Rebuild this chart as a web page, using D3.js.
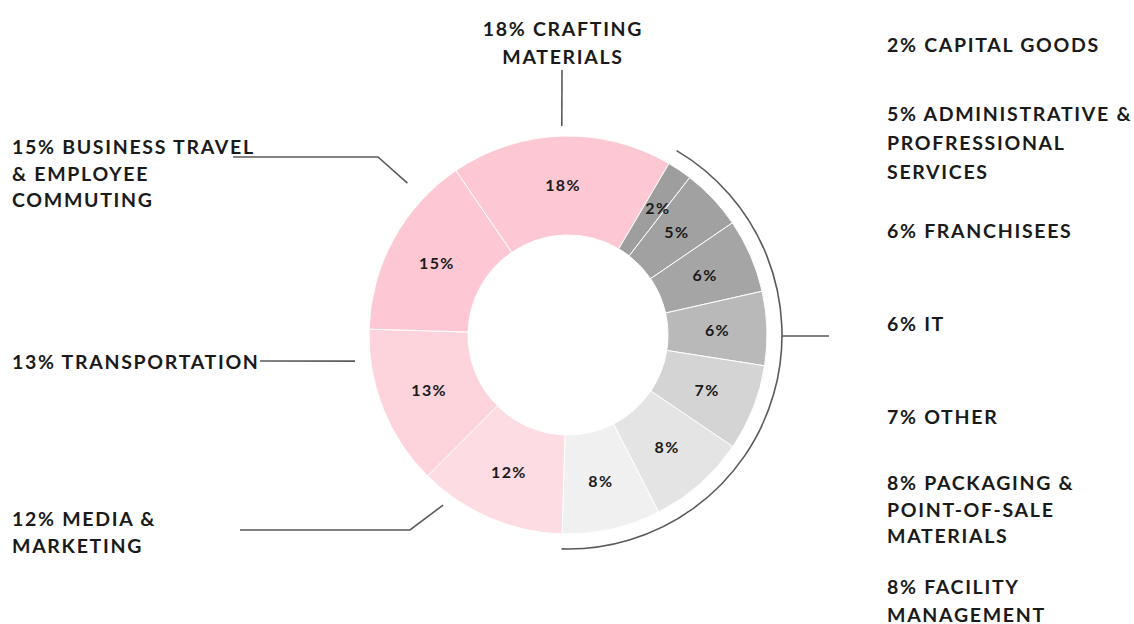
<!DOCTYPE html>
<html>
<head>
<meta charset="utf-8">
<script src="https://cdn.jsdelivr.net/npm/d3@7"></script>
<style>
  html, body { margin: 0; padding: 0; background: #ffffff; }
  svg { display: block; }
  text { font-family: Lato, "Open Sans", sans-serif; font-weight: 700; fill: #1a1a1a; }
</style>
</head>
<body>
<svg id="chart" width="1134" height="624"></svg>
<script>
// ---------- DATA ----------
const categories = [
  "CRAFTING MATERIALS",
  "CAPITAL GOODS",
  "ADMINISTRATIVE & PROFRESSIONAL SERVICES",
  "FRANCHISEES",
  "IT",
  "OTHER",
  "PACKAGING & POINT-OF-SALE MATERIALS",
  "FACILITY MANAGEMENT",
  "MEDIA & MARKETING",
  "TRANSPORTATION",
  "BUSINESS TRAVEL & EMPLOYEE COMMUTING"
];
const values = [18, 2, 5, 6, 6, 7, 8, 8, 12, 13, 15];
const labelLines = [
  ["18% CRAFTING", "MATERIALS"],
  ["2% CAPITAL GOODS"],
  ["5% ADMINISTRATIVE &", "PROFRESSIONAL", "SERVICES"],
  ["6% FRANCHISEES"],
  ["6% IT"],
  ["7% OTHER"],
  ["8% PACKAGING &", "POINT-OF-SALE", "MATERIALS"],
  ["8% FACILITY", "MANAGEMENT"],
  ["12% MEDIA &", "MARKETING"],
  ["13% TRANSPORTATION"],
  ["15% BUSINESS TRAVEL", "& EMPLOYEE", "COMMUTING"]
];
const bracketed = ["CAPITAL GOODS","ADMINISTRATIVE & PROFRESSIONAL SERVICES","FRANCHISEES","IT","OTHER","PACKAGING & POINT-OF-SALE MATERIALS","FACILITY MANAGEMENT"];

// ---------- STYLE / LAYOUT ----------
const sliceColors = ["#fdc8d3","#9e9e9f","#a1a1a2","#a5a5a6","#b9b9ba","#d3d4d3","#e3e4e3","#f0f0f0","#fedce3","#fdd4dc","#fdc8d3"];
const cx = 568, cy = 335, rOuter = 199, rInner = 100;
const startDeg = -34.3;
const lineHeight = 27.5;
const labelPos = [
  {x: 563, y: 36, anchor: "middle", lh: 28},
  {x: 887, y: 52, anchor: "start"},
  {x: 887, y: 121, anchor: "start", lh: 29},
  {x: 887, y: 238, anchor: "start"},
  {x: 887, y: 331, anchor: "start"},
  {x: 887, y: 424, anchor: "start"},
  {x: 887, y: 490, anchor: "start", lh: 26.5},
  {x: 887, y: 594, anchor: "start"},
  {x: 12, y: 526, anchor: "start", lh: 26.5},
  {x: 12, y: 369, anchor: "start"},
  {x: 12, y: 154, anchor: "start", lh: 26.5}
];
const leaders = [
  {inner: {deg: -1.7, r: 209}, pts: [[562, 70]]},
  {inner: {deg: -46.6, r: 221}, pts: [[378, 157], [233, 157]]},
  {inner: {deg: 263, r: 214.6}, pts: [[260, 361]]},
  {inner: {deg: 216.3, r: 211}, pts: [[410, 530], [240, 530]]}
];

const svg = d3.select("#chart");
const g = svg.append("g").attr("transform", `translate(${cx},${cy})`);

const toRad = d => d * Math.PI / 180;
const color = d3.scaleOrdinal().domain(categories).range(sliceColors);

const pie = d3.pie().sort(null).value((d, i) => values[i])
  .startAngle(toRad(startDeg)).endAngle(toRad(startDeg) + 2 * Math.PI);
const arcs = pie(categories);
const arc = d3.arc().innerRadius(rInner).outerRadius(rOuter);

g.selectAll("path.slice").data(arcs).join("path")
  .attr("class", "slice")
  .attr("d", arc)
  .attr("fill", d => color(d.data))
  .attr("stroke", "#ffffff")
  .attr("stroke-width", 1);

g.selectAll("text.pct").data(arcs).join("text")
  .attr("class", "pct")
  .attr("transform", d => {
    const c = arc.centroid(d);
    if (d.data === "CAPITAL GOODS") { c[0] += 6; c[1] -= 3; }
    return `translate(${c})`;
  })
  .attr("text-anchor", "middle")
  .attr("dy", "0.36em")
  .style("font-size", "16px")
  .style("letter-spacing", "1.3px")
  .text((d, i) => values[i] + "%");

// bracket arc over gray slices
const br = arcs.filter(a => bracketed.includes(a.data));
const bStart = d3.min(br, a => a.startAngle), bEnd = d3.max(br, a => a.endAngle);
const bracketR = 214;
g.append("path")
  .attr("d", d3.arc().innerRadius(bracketR).outerRadius(bracketR).startAngle(bStart).endAngle(bEnd)())
  .attr("fill", "none").attr("stroke", "#5a5a5a").attr("stroke-width", 1.6);
g.append("line")
  .attr("x1", bracketR).attr("y1", 1)
  .attr("x2", bracketR + 47).attr("y2", 1)
  .attr("stroke", "#5a5a5a").attr("stroke-width", 1.6);

// leader lines
leaders.forEach(l => {
  const a = toRad(l.inner.deg);
  const p0 = [cx + l.inner.r * Math.sin(a), cy - l.inner.r * Math.cos(a)];
  svg.append("path")
    .attr("d", d3.line()([p0, ...l.pts]))
    .attr("fill", "none").attr("stroke", "#5a5a5a").attr("stroke-width", 1.6);
});

// outside labels
labelLines.forEach((lines, i) => {
  const p = labelPos[i];
  const t = svg.append("text")
    .attr("x", p.x).attr("y", p.y)
    .attr("text-anchor", p.anchor)
    .style("font-size", "19.5px")
    .style("letter-spacing", "1.7px");
  lines.forEach((ln, j) => {
    t.append("tspan").attr("x", p.x).attr("y", p.y + j * (p.lh || lineHeight)).text(ln);
  });
});
</script>
</body>
</html>
